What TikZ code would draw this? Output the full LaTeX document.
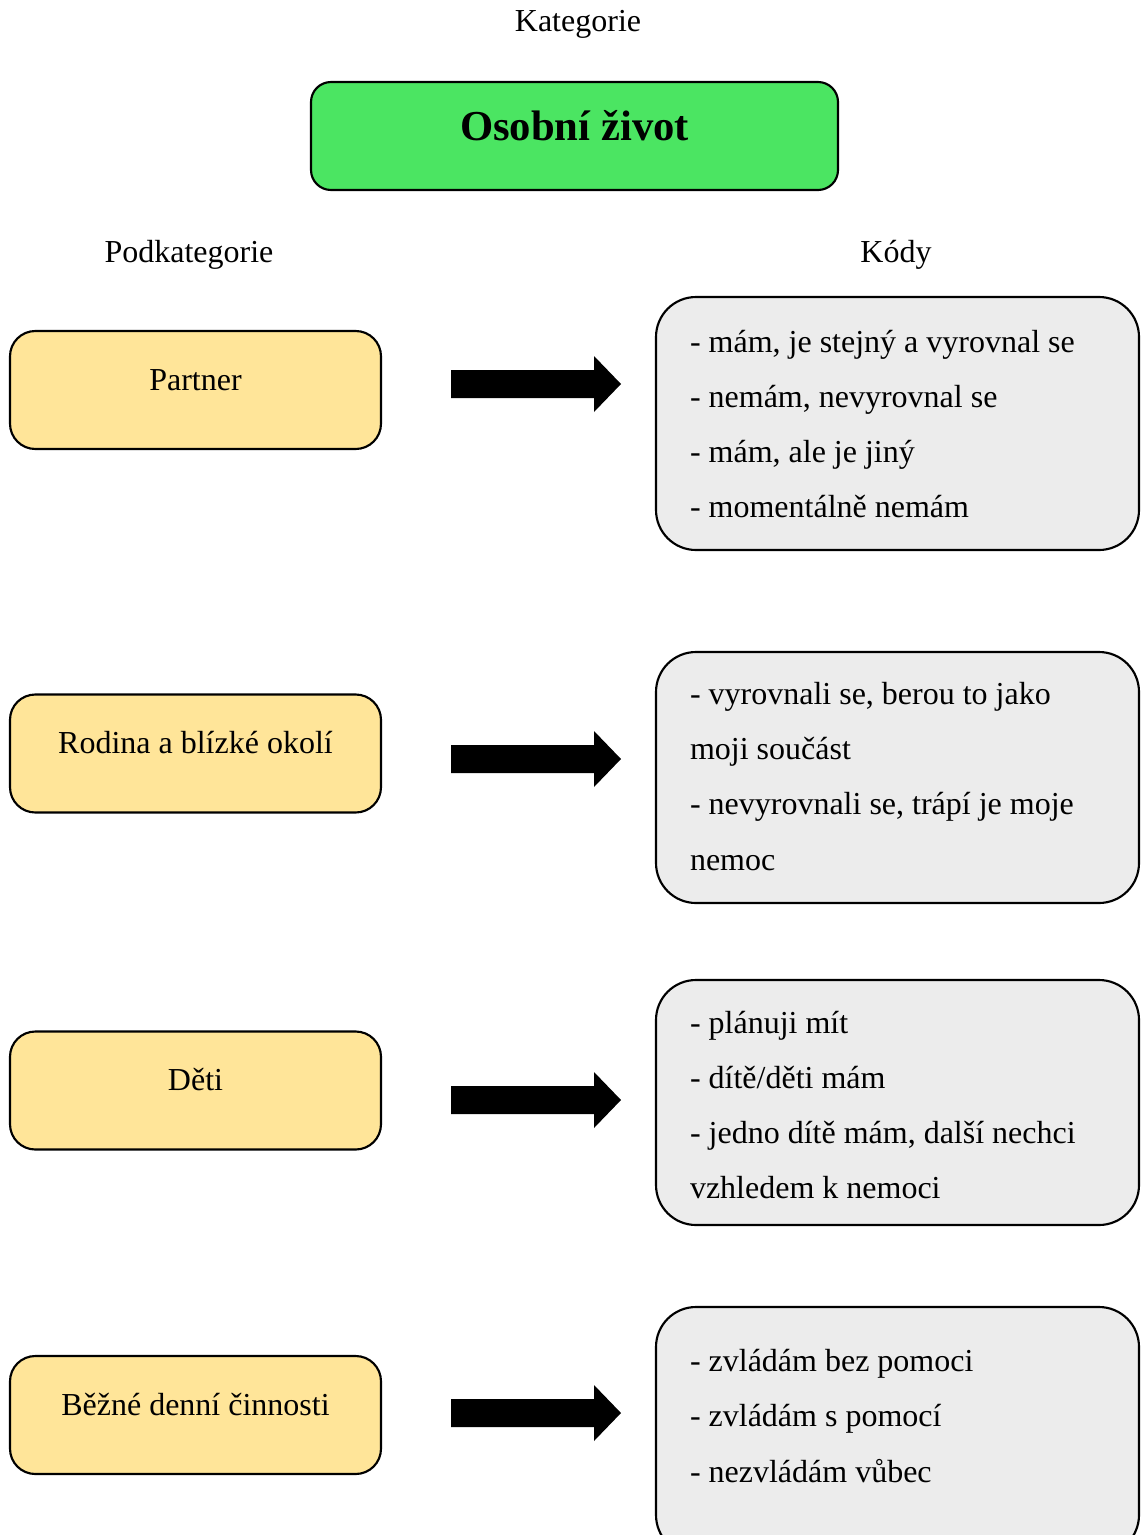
\documentclass[tikz,border=0pt]{standalone}
\usepackage{fontspec}
\setmainfont{Liberation Serif}
\definecolor{catgreen}{RGB}{75,229,98}
\definecolor{subyellow}{RGB}{255,229,153}
\definecolor{codegray}{RGB}{236,236,236}
\begin{document}
\begin{tikzpicture}[x=0.75pt,y=-0.75pt,
  every node/.style={inner sep=0pt,outer sep=0pt},
  lbl/.style={font=\fontsize{24}{29}\selectfont,anchor=base},
  codeline/.style={font=\fontsize{24}{29}\selectfont,anchor=base west},
  catbox/.style={draw,line width=1.6pt,fill=catgreen,rounded corners=15pt,
    minimum width=395.25pt,minimum height=81pt},
  subbox/.style={draw,line width=1.6pt,fill=subyellow,rounded corners=19pt,
    minimum width=278.25pt,minimum height=88.5pt},
  codebox/.style={draw,line width=1.6pt,fill=codegray,rounded corners=30pt,
    minimum width=362.25pt},
  bigarrow/.style={fill=black}
]
\clip (0,0) rectangle (1140,1535);
\fill[white] (0,0) rectangle (1140,1535);

% headings
\node[lbl] (hkat) at (578,31) {Kategorie};
\node[lbl] (hpod) at (189,262) {Podkategorie};
\node[lbl] (hkod) at (896,262) {Kódy};

% category
\node[catbox] (cat) at (574.5,136) {};
\node[font=\fontsize{32}{38}\selectfont\bfseries,anchor=base] (cattxt) at (574.5,140) {Osobní život};

% subcategories
\node[subbox] (s1) at (195.5,390) {};
\node[lbl] (s1t) at (195.5,390) {Partner};
\node[subbox] (s2) at (195.5,753.5) {};
\node[lbl] (s2t) at (195.5,753) {Rodina a blízké okolí};
\node[subbox] (s3) at (195.5,1090.5) {};
\node[lbl] (s3t) at (195.5,1090) {Děti};
\node[subbox] (s4) at (195.5,1415) {};
\node[lbl] (s4t) at (195.5,1415) {Běžné denní činnosti};

% code boxes
\node[codebox,minimum height=189.75pt] (c1) at (897.5,423.5) {};
\node[codeline] (c1a) at (690,352) {- mám, je stejný a vyrovnal se};
\node[codeline] (c1b) at (690,407) {- nemám, nevyrovnal se};
\node[codeline] (c1c) at (690,462) {- mám, ale je jiný};
\node[codeline] (c1d) at (690,517) {- momentálně nemám};

\node[codebox,minimum height=188.25pt] (c2) at (897.5,777.5) {};
\node[codeline] (c2a) at (690,704) {- vyrovnali se, berou to jako};
\node[codeline] (c2b) at (690,759) {moji součást};
\node[codeline] (c2c) at (690,814) {- nevyrovnali se, trápí je moje};
\node[codeline] (c2d) at (690,870) {nemoc};

\node[codebox,minimum height=183.75pt] (c3) at (897.5,1102.5) {};
\node[codeline] (c3a) at (690,1033) {- plánuji mít};
\node[codeline] (c3b) at (690,1088) {- dítě/děti mám};
\node[codeline] (c3c) at (690,1143) {- jedno dítě mám, další nechci};
\node[codeline] (c3d) at (690,1198) {vzhledem k nemoci};

\node[codebox,minimum height=186pt] (c4) at (897.5,1431) {};
\node[codeline] (c4a) at (690,1371) {- zvládám bez pomoci};
\node[codeline] (c4b) at (690,1426) {- zvládám s pomocí};
\node[codeline] (c4c) at (690,1482) {- nezvládám vůbec};

% block arrows between subcategory and codes
\foreach \n/\yy in {1/384,2/759,3/1100,4/1413}{
  \coordinate (a\n) at (451,\yy);
  \fill[bigarrow] (a\n) ++(0,-14) -- ++(143,0) -- ++(0,-14) -- ++(27,28)
    -- ++(-27,28) -- ++(0,-14) -- ++(-143,0) -- cycle;
}
\end{tikzpicture}
\end{document}
